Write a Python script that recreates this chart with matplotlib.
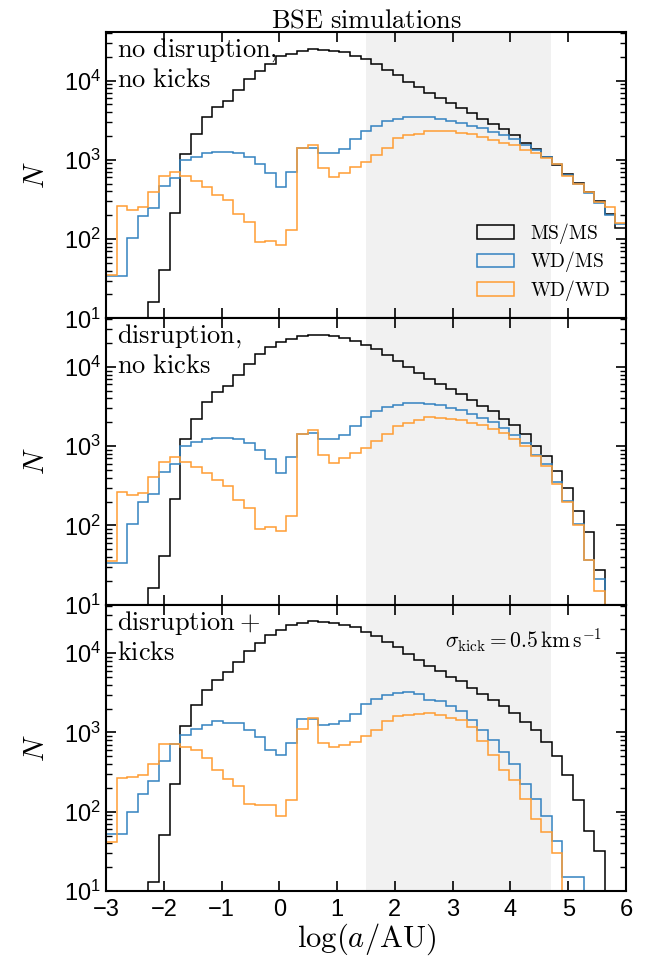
import numpy as np
import matplotlib
matplotlib.use("Agg")
import matplotlib.pyplot as plt
from matplotlib.patches import Patch
from matplotlib.ticker import LogLocator, NullFormatter, MultipleLocator

plt.rcParams['font.family'] = ['Liberation Sans', 'DejaVu Sans']
plt.rcParams['mathtext.fontset'] = 'cm'

# bins in log(a/AU)
edges = np.linspace(-3, 6, 50)

# panel 1: no disruption, no kicks
ms_ms_1 = [0, 0, 0, 0, 16, 41, 212, 1200, 2130, 3490, 4620, 5490, 7700, 10500, 13100, 16200, 20200,
           21900, 23400, 24800, 24500, 23900, 22800, 20700, 18500, 16100, 13700, 11600, 9700, 8240,
           7060, 6000, 5240, 4530, 3880, 3290, 2850, 2420, 2050, 1640, 1370, 1100, 860, 656, 505,
           393, 303, 210, 140]
wd_ms_1 = [34, 34, 103, 198, 249, 472, 595, 984, 1090, 1230, 1250, 1265, 1230, 1080, 877, 675, 459,
           707, 1420, 1420, 1215, 1215, 1380, 1810, 2300, 2660, 3130, 3320, 3450, 3490, 3450, 3290,
           3070, 2900, 2660, 2490, 2260, 2050, 1810, 1530, 1350, 1080, 877, 637, 491, 382, 288, 202, 157]
wd_wd_1 = [35, 259, 236, 257, 396, 618, 707, 625, 541, 454, 364, 308, 206, 165, 91, 95, 84, 129, 1420,
           1530, 787, 607, 688, 819, 929, 1140, 1430, 1900, 2050, 2150, 2300, 2340, 2300, 2190, 2090,
           1950, 1760, 1630, 1520, 1330, 1230, 1060, 877, 625, 491, 396, 297, 257, 161]

# panel 2: disruption, no kicks
ms_ms_2 = [0, 0, 0, 0, 16, 41, 215, 1230, 2200, 3610, 4830, 5700, 8000, 11000, 14700, 17900, 20700,
           22600, 24400, 25600, 25300, 24400, 23200, 21300, 19100, 16600, 14000, 11800, 10000, 8480,
           7120, 6040, 5220, 4520, 3870, 3220, 2750, 2230, 1870, 1440, 1010, 744, 485, 299, 150, 82,
           27, 0, 0]
wd_ms_2 = [34, 34, 105, 197, 251, 472, 601, 995, 1120, 1240, 1270, 1280, 1240, 1100, 903, 682, 462,
           729, 1440, 1470, 1240, 1240, 1370, 1800, 2330, 2750, 3120, 3340, 3510, 3510, 3440, 3280,
           3060, 2890, 2580, 2270, 2000, 1710, 1400, 1110, 766, 590, 352, 203, 105, 37, 21, 0, 0]
wd_wd_2 = [36, 264, 239, 256, 408, 631, 729, 631, 546, 458, 370, 314, 207, 167, 91, 95, 85, 130, 1440,
           1585, 766, 620, 710, 828, 957, 1150, 1410, 1780, 1980, 2120, 2340, 2290, 2200, 2120, 1980,
           1870, 1630, 1470, 1240, 995, 751, 556, 330, 197, 100, 37, 15, 0, 0]

# panel 3: disruption + kicks
ms_ms_3 = [0, 0, 0, 0, 13, 51, 223, 1200, 2200, 3390, 4660, 5760, 7850, 10800, 13500, 17000, 19900,
           22700, 24100, 25300, 25000, 24100, 22700, 21300, 18700, 16400, 13700, 11900, 9810, 8250,
           7000, 5930, 5080, 4400, 3660, 3080, 2540, 2130, 1760, 1350, 1060, 758, 505, 288, 140, 57,
           32, 0, 0]
wd_ms_3 = [52, 52, 98, 167, 244, 440, 706, 925, 1110, 1260, 1380, 1320, 1300, 1070, 881, 593, 518,
           745, 1470, 1490, 1225, 1285, 1390, 1720, 2300, 2640, 2930, 3140, 3250, 3060, 2600, 2510,
           2190, 1890, 1420, 1080, 800, 570, 404, 226, 144, 88, 43, 15, 15, 0, 0, 0, 0]
wd_wd_3 = [41, 263, 271, 290, 395, 726, 712, 647, 599, 470, 335, 258, 213, 125, 120, 120, 88, 139,
           1110, 1530, 741, 653, 686, 755, 891, 1080, 1390, 1600, 1670, 1720, 1750, 1640, 1530, 1420,
           1170, 771, 514, 339, 249, 144, 80, 56, 30, 0, 0, 0, 0, 0, 0]

panel_text = [r'$\mathrm{no\ disruption,}$' + '\n' + r'$\mathrm{no\ kicks}$',
              r'$\mathrm{disruption,}$' + '\n' + r'$\mathrm{no\ kicks}$',
              r'$\mathrm{disruption} +$' + '\n' + r'$\mathrm{kicks}$']
panels = [(ms_ms_1, wd_ms_1, wd_wd_1), (ms_ms_2, wd_ms_2, wd_wd_2), (ms_ms_3, wd_ms_3, wd_wd_3)]
labels = [r'$\mathrm{MS/MS}$', r'$\mathrm{WD/MS}$', r'$\mathrm{WD/WD}$']
colors = ['black', '#3382c0', '#ff9d33']

fig, axes = plt.subplots(3, 1, figsize=(6.56, 9.65), dpi=100, sharex=True)
fig.subplots_adjust(left=0.1616, right=0.9543, top=0.9668, bottom=0.0767, hspace=0)

for ax, data, txt in zip(axes, panels, panel_text):
    ax.axvspan(1.5, 4.7, color='#f1f1f1', zorder=0, lw=0)
    for vals, c in zip(data, colors):
        ax.stairs(vals, edges, color=c, lw=1.1, zorder=2)
    ax.set_yscale('log')
    ax.set_ylim(10, 4.1e4)
    ax.set_xlim(-3, 6)
    ax.xaxis.set_major_locator(MultipleLocator(1))
    ax.yaxis.set_major_locator(LogLocator(base=10, numticks=10))
    ax.yaxis.set_minor_locator(LogLocator(base=10, subs=np.arange(2, 10), numticks=10))
    ax.yaxis.set_minor_formatter(NullFormatter())
    ax.tick_params(which='both', direction='in', top=True, right=True, labelsize=17)
    ax.tick_params(which='major', length=7, width=1.2)
    ax.tick_params(which='minor', length=4, width=1.0)
    ax.tick_params(axis='x', pad=6)
    for s in ax.spines.values():
        s.set_linewidth(1.5)
    ax.set_ylabel(r'$N$', fontsize=21, labelpad=10)
    ax.text(0.022, 0.985, txt, transform=ax.transAxes, ha='left', va='top',
            fontsize=19, linespacing=1.2)

handles = [Patch(facecolor='none', edgecolor=c, lw=1.1) for c in colors]
axes[0].legend(handles, labels, loc='lower right', bbox_to_anchor=(1.0, 0.0), frameon=False,
               fontsize=14, handlelength=1.9, handleheight=0.7, handletextpad=0.85,
               labelspacing=0.18, borderaxespad=0.4)
axes[0].set_title(r'$\mathrm{BSE\ simulations}$', fontsize=19, pad=3)
axes[2].text(0.955, 0.875, r'$\sigma_{\rm kick} = 0.5\,{\rm km\,s^{-1}}$', transform=axes[2].transAxes,
             ha='right', va='center', fontsize=15.5)
axes[2].set_xlabel(r'$\log(a/\mathrm{AU})$', fontsize=22, labelpad=0)

fig.savefig('out.png', dpi=100)
